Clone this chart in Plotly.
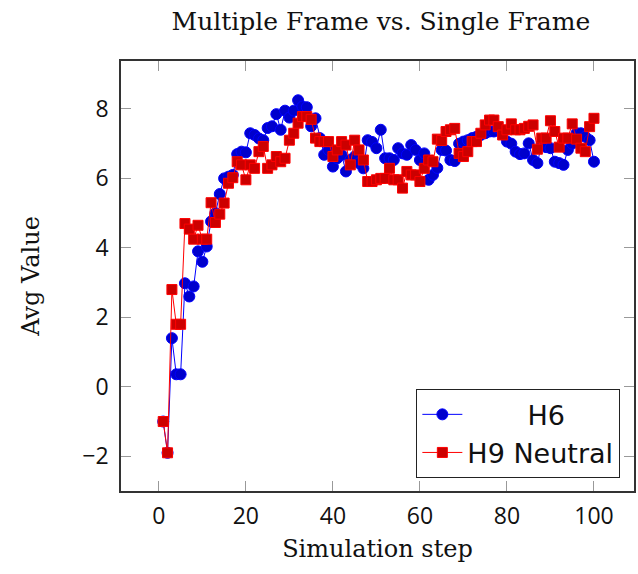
import plotly.graph_objects as go

steps = list(range(1, 101))

h6 = [-1.0, -1.9, 1.4, 0.36, 0.36, 2.98, 2.6, 2.89, 3.9, 3.6,
      4.04, 4.76, 5.0, 5.55, 6.0, 6.05, 6.1, 6.7, 6.77, 6.75,
      7.3, 7.25, 7.15, 7.1, 7.45, 7.5, 7.85, 7.4, 7.95, 7.75,
      7.95, 8.25, 8.07, 8.05, 7.5, 7.73, 7.16, 6.68, 6.82, 6.34,
      6.58, 6.68, 6.2, 6.53, 6.63, 6.44, 6.29, 7.1, 7.05, 6.87,
      7.4, 6.58, 6.58, 6.53, 6.87, 6.72, 6.68, 6.96, 6.82, 6.53,
      6.72, 5.96, 6.1, 6.3, 6.82, 6.8, 6.53, 6.5, 7.0, 7.06,
      7.1, 7.16, 7.2, 7.25, 7.3, 7.35, 7.35, 7.44, 7.3, 7.06,
      7.0, 6.77, 6.7, 6.72, 7.01, 6.53, 6.44, 7.0, 6.9, 6.87,
      6.48, 6.44, 6.39, 6.82, 7.0, 7.3, 7.3, 7.2, 7.1, 6.48]

h9 = [-1.0, -1.9, 2.8, 1.8, 1.8, 4.7, 4.54, 4.25, 4.65, 4.25,
      4.25, 5.3, 4.73, 4.97, 5.29, 5.86, 6.02, 6.48, 6.39, 5.96,
      6.39, 6.29, 6.77, 6.92, 6.29, 6.39, 6.63, 6.48, 6.58, 7.1,
      7.3, 7.59, 7.78, 7.78, 7.7, 7.16, 7.06, 7.06, 7.06, 6.63,
      6.82, 7.06, 6.96, 6.39, 7.1, 6.82, 6.53, 5.91, 5.91, 5.96,
      6.0, 6.0, 6.29, 5.96, 5.96, 5.72, 6.2, 6.1, 6.1, 5.91,
      6.29, 6.53, 6.48, 7.13, 7.09, 7.35, 7.4, 7.44, 6.72, 6.63,
      6.77, 7.06, 7.06, 7.3, 7.54, 7.68, 7.68, 7.49, 7.25, 7.4,
      7.57, 7.4, 7.4, 7.44, 7.5, 7.54, 6.84, 7.16, 7.16, 7.66,
      7.35, 6.9, 7.16, 7.16, 7.57, 7.13, 6.87, 6.77, 7.49, 7.73]

x_ticks = [0, 20, 40, 60, 80, 100]
y_ticks = [-2, 0, 2, 4, 6, 8]

SERIF = "DejaVu Serif, Liberation Serif, serif"
SANS = "Open Sans, Noto Sans, sans-serif"
LEGEND_FONT = "DejaVu Sans, sans-serif"

fig = go.Figure()
fig.add_trace(go.Scatter(
    x=steps, y=h6, mode="lines+markers", name="\u00a0" * 7 + "H6",
    line=dict(color="#0000ff", width=1),
    marker=dict(symbol="circle", size=11, color="#0000cc",
                line=dict(color="#0000ff", width=1)),
))
fig.add_trace(go.Scatter(
    x=steps, y=h9, mode="lines+markers", name="H9 Neutral",
    line=dict(color="#ff0000", width=1),
    marker=dict(symbol="square", size=10, color="#cc0000",
                line=dict(color="#ff0000", width=1)),
))

axis_common = dict(
    showgrid=False, zeroline=False, showline=True, linecolor="#333333",
    linewidth=1.5, mirror="allticks", ticks="inside", ticklen=10,
    tickcolor="#999999", tickwidth=1.2,
    tickfont=dict(family=SANS, size=23, color="#111111"),
)

fig.update_layout(
    width=638, height=574,
    margin=dict(l=121, r=2, t=61, b=83),
    paper_bgcolor="white", plot_bgcolor="white",
    title=dict(text="Multiple Frame vs. Single Frame", x=0.597, xanchor="center",
               y=0.963, yanchor="middle",
               font=dict(family=SERIF, size=25, color="#111111")),
    xaxis=dict(range=[-8.7, 109.2], tickvals=x_ticks, ticklabelstandoff=4,
               title=dict(text="Simulation step", standoff=10,
                          font=dict(family=SERIF, size=24, color="#111111")),
               **axis_common),
    yaxis=dict(range=[-3.0, 9.38], tickvals=y_ticks, ticklabelstandoff=6,
               title=dict(text="Avg Value", standoff=36,
                          font=dict(family=SERIF, size=24, color="#111111")),
               **axis_common),
    legend=dict(x=0.973, xanchor="right", y=0.03, yanchor="bottom",
                bgcolor="white", bordercolor="#222222", borderwidth=1.2,
                font=dict(family=LEGEND_FONT, size=27, color="#111111"),
                tracegroupgap=0, itemwidth=40),
    showlegend=True,
)

fig.write_html("out.html")
